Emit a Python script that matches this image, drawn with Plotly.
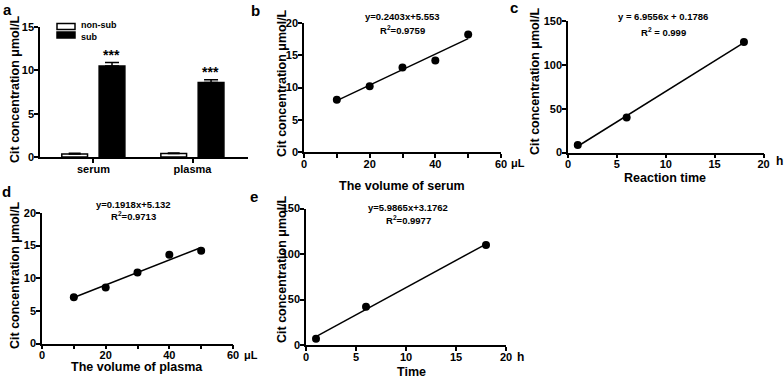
import plotly.graph_objects as go

W, H = 784, 379
FONT = "Liberation Sans, Arial, sans-serif"

# ---------------- data ----------------
# panel a
groups = ["serum", "plasma"]
nonsub_vals = [0.35, 0.40]
nonsub_err = [0.08, 0.05]
sub_vals = [10.5, 8.6]
sub_err = [0.4, 0.3]
sig_labels = ["***", "***"]
a_yticks = [0, 5, 10, 15]

# panel b
b_x = [10, 20, 30, 40, 50]
b_y = [8.1, 10.2, 13.1, 14.2, 18.2]
b_fit = (0.2403, 5.553)
b_eq = ["y=0.2403x+5.553", "R<sup>2</sup>=0.9759"]
b_xticks = [0, 20, 40, 60]
b_yticks = [0, 5, 10, 15, 20]

# panel c
c_x = [1, 6, 18]
c_y = [8.5, 40.0, 126.0]
c_fit = (6.9556, 0.1786)
c_eq = ["y = 6.9556x + 0.1786", "R<sup>2</sup> = 0.999"]
c_xticks = [0, 5, 10, 15, 20]
c_yticks = [0, 50, 100, 150]

# panel d
d_x = [10, 20, 30, 40, 50]
d_y = [7.1, 8.6, 10.9, 13.6, 14.2]
d_fit = (0.1918, 5.132)
d_eq = ["y=0.1918x+5.132", "R<sup>2</sup>=0.9713"]
d_xticks = [0, 20, 40, 60]
d_yticks = [0, 5, 10, 15, 20]

# panel e
e_x = [1, 6, 18]
e_y = [7.0, 42.0, 110.0]
e_fit = (5.9865, 3.1762)
e_eq = ["y=5.9865x+3.1762", "R<sup>2</sup>=0.9977"]
e_xticks = [0, 5, 10, 15, 20]
e_yticks = [0, 50, 100, 150]

minor_vol_ticks = [10, 30, 50]

y_title = "Cit concentration \u03bcmol/L"


def px(x):
    return x / W


def py(y):
    return 1 - y / H


def bold(v):
    return f"<b>{v}</b>"


fig = go.Figure()

# ---- panel a bars ----
fig.add_trace(go.Bar(
    x=groups, y=nonsub_vals, name="non-sub", xaxis="x", yaxis="y",
    marker=dict(color="white", line=dict(color="black", width=1.5)),
    width=0.26, offset=-0.32,
    error_y=dict(type="data", array=nonsub_err, arrayminus=[0, 0], symmetric=False,
                 color="black", thickness=1.5, width=6),
    showlegend=False,
))
fig.add_trace(go.Bar(
    x=groups, y=sub_vals, name="sub", xaxis="x", yaxis="y",
    marker=dict(color="black", line=dict(color="black", width=1.5)),
    width=0.26, offset=0.057,
    error_y=dict(type="data", array=sub_err, arrayminus=[0, 0], symmetric=False,
                 color="black", thickness=1.5, width=7),
    showlegend=False,
))


def scatter_panel(xs, ys, fit, xa, ya):
    m, b = fit
    x0, x1 = xs[0], xs[-1]
    fig.add_trace(go.Scatter(x=[x0, x1], y=[m * x0 + b, m * x1 + b], mode="lines",
                             line=dict(color="black", width=1.5), xaxis=xa, yaxis=ya,
                             showlegend=False, hoverinfo="skip"))
    fig.add_trace(go.Scatter(x=xs, y=ys, mode="markers",
                             marker=dict(color="black", size=8), xaxis=xa, yaxis=ya,
                             showlegend=False))


scatter_panel(b_x, b_y, b_fit, "x2", "y2")
scatter_panel(c_x, c_y, c_fit, "x3", "y3")
scatter_panel(d_x, d_y, d_fit, "x4", "y4")
scatter_panel(e_x, e_y, e_fit, "x5", "y5")

tickfont = dict(family=FONT, size=11, color="black", weight=700)
common = dict(showline=True, linecolor="black", linewidth=1.5, ticks="outside",
              ticklen=4, tickwidth=1.5, tickcolor="black", showgrid=False,
              zeroline=False, tickfont=tickfont, fixedrange=True, automargin=False)
minor = dict(tickvals=minor_vol_ticks, ticks="outside", ticklen=4, tickwidth=1.5,
             tickcolor="black")


def xax(dom, rng, ticks, anchor, **kw):
    return dict(domain=[px(dom[0]), px(dom[1])], range=rng, tickvals=ticks,
                ticktext=[bold(t) for t in ticks], anchor=anchor,
                ticklabelstandoff=-3, **kw, **common)


def yax(dom, rng, ticks, anchor):
    return dict(domain=[py(dom[1]), py(dom[0])], range=rng, tickvals=ticks,
                ticktext=[bold(t) for t in ticks], anchor=anchor,
                ticklabelstandoff=-2, **common)


layout = dict(
    template="none",
    width=W, height=H, margin=dict(l=0, r=0, t=0, b=0, pad=0),
    paper_bgcolor="white", plot_bgcolor="white", barmode="overlay",
    font=dict(family=FONT, color="black"),
    xaxis=xax((40, 248), [-0.54, 1.56], groups, "y"),
    yaxis=yax((27, 157), [0, 15], a_yticks, "x"),
    xaxis2=xax((304, 501), [0, 60], b_xticks, "y2", minor=minor),
    yaxis2=yax((23, 152), [0, 20], b_yticks, "x2"),
    xaxis3=xax((568, 763.5), [0, 20], c_xticks, "y3"),
    yaxis3=yax((21, 152.5), [0, 150], c_yticks, "x3"),
    xaxis4=xax((42, 233), [0, 60], d_xticks, "y4", minor=minor),
    yaxis4=yax((213, 343.5), [0, 20], d_yticks, "x4"),
    xaxis5=xax((306, 506), [0, 20], e_xticks, "y5"),
    yaxis5=yax((208.5, 345), [0, 150], e_yticks, "x5"),
)
fig.update_layout(**layout)

ann = []


def text(x, y, s, size, angle=0, xanchor="center", yanchor="middle", xref="paper", yref="paper"):
    ann.append(dict(x=x, y=y, xref=xref, yref=yref, text=bold(s), showarrow=False,
                    textangle=angle, xanchor=xanchor, yanchor=yanchor,
                    font=dict(family=FONT, size=size, color="black", weight=700)))


# panel letters
text(px(8), py(9), "a", 15)
text(px(255), py(10), "b", 15)
text(px(514), py(8), "c", 15)
text(px(6), py(191), "d", 15)
text(px(254), py(196), "e", 15)

# y-axis titles
text(px(15), py(89), y_title, 12.5, angle=-90)
text(px(282), py(83), y_title, 12.5, angle=-90)
text(px(535), py(81), y_title, 12.5, angle=-90)
text(px(15), py(275), y_title, 12.5, angle=-90)
text(px(282), py(269), y_title, 12.5, angle=-90)

# x-axis titles
text(px(402), py(186), "The volume of serum", 12.5)
text(px(665), py(178), "Reaction time", 12.5)
text(px(137), py(367), "The volume of plasma", 12.5)
text(px(411), py(372), "Time", 12.5)

# units after last tick
text(px(509), py(163), "\u03bcL", 11, xanchor="left")
text(px(774), py(161), "h", 12, xanchor="left")
text(px(242), py(355), "\u03bcL", 11, xanchor="left")
text(px(515), py(357), "h", 12, xanchor="left")

# equations
text(px(402), py(17), b_eq[0], 9.5)
text(px(402), py(30), b_eq[1], 9.5)
text(px(663), py(17), c_eq[0], 9.5)
text(px(663), py(32), c_eq[1], 9.5)
text(px(133), py(204), d_eq[0], 9.5)
text(px(133), py(216), d_eq[1], 9.5)
text(px(408), py(207), e_eq[0], 9.5)
text(px(408), py(220), e_eq[1], 9.5)

# significance stars over sub bars
for g, v, e, s in zip(groups, sub_vals, sub_err, sig_labels):
    ann.append(dict(x=g, y=v + e, xref="x", yref="y", text=bold(s), showarrow=False,
                    xshift=18, yanchor="bottom", yshift=-2,
                    font=dict(family=FONT, size=14, color="black", weight=700)))

# legend (panel a)
shapes = [
    dict(type="rect", xref="paper", yref="paper", x0=px(57), x1=px(75), y0=py(29.5), y1=py(23.5),
         line=dict(color="black", width=1.5), fillcolor="white"),
    dict(type="rect", xref="paper", yref="paper", x0=px(57), x1=px(75), y0=py(38), y1=py(32),
         line=dict(color="black", width=1.5), fillcolor="black"),
]
text(px(79), py(24.8), "non-sub", 9, xanchor="left")
text(px(79), py(36.6), "sub", 9, xanchor="left")

fig.update_layout(annotations=ann, shapes=shapes)
fig.write_html("out.html", config={"displayModeBar": False},
               post_script="document.body.style.margin='0px';document.body.style.overflow='hidden';")
